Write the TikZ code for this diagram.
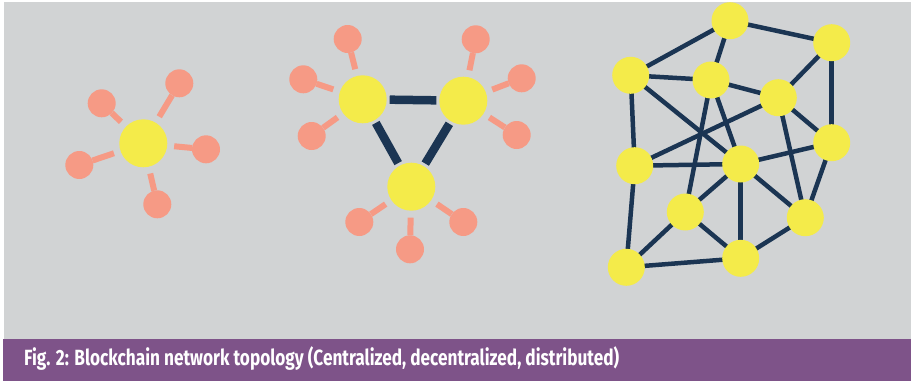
\documentclass[tikz,border=0pt]{standalone}
\usepackage{fontspec}
\setmainfont{Fira Sans}
\usepackage{graphicx}
\definecolor{bggray}{HTML}{D1D3D4}
\definecolor{hubyellow}{HTML}{F4EB4A}
\definecolor{salmon}{HTML}{F69A85}
\definecolor{navy}{HTML}{1B3553}
\definecolor{capurple}{HTML}{7E5389}
\tikzset{
  hub/.style={circle,fill=hubyellow,inner sep=0pt,outer sep=0pt,minimum size=48pt},
  sat/.style={circle,fill=salmon,inner sep=0pt,outer sep=0pt,minimum size=28pt},
  mnode/.style={circle,fill=hubyellow,inner sep=0pt,outer sep=0pt,minimum size=37pt},
  spoke/.style={draw=salmon,line width=6pt,shorten <=7pt},
  link/.style={draw=navy,line width=8.5pt,shorten <=3pt,shorten >=3pt},
  mesh/.style={draw=navy,line width=4.5pt},
}
\begin{document}
\begin{tikzpicture}[x=1pt,y=-1pt]
\useasboundingbox (0,0) rectangle (913,383);
\fill[white] (0,0) rectangle (913,383);
\fill[bggray] (4,2) rectangle (911,339);
\fill[capurple] (3,339) rectangle (911,381);
% centralized
\node[sat] (s1) at (179.3,83.3) {};
\node[sat] (s2) at (101.7,103.3) {};
\node[sat] (s3) at (206,149.3) {};
\node[sat] (s4) at (79.3,165) {};
\node[sat] (s5) at (157.3,204.3) {};
\node[hub] (c0) at (143.3,143.3) {};
\foreach \s in {s1,s2,s3,s4,s5} \path[spoke] (c0) -- (\s);
% decentralized
\node[hub] (A) at (362.7,99.3) {};
\node[hub] (B) at (463.3,100.7) {};
\node[hub] (C) at (411.3,186.7) {};
\node[sat] (a1) at (347.7,39) {};
\node[sat] (a2) at (303.3,79.3) {};
\node[sat] (a3) at (311.7,136) {};
\node[sat] (b1) at (475.7,39.3) {};
\node[sat] (b2) at (521.7,78.3) {};
\node[sat] (b3) at (516.7,135) {};
\node[sat] (c1) at (359.3,222) {};
\node[sat] (c2) at (410,249.3) {};
\node[sat] (c3) at (463.3,222) {};
\foreach \s in {a1,a2,a3} \path[spoke] (A) -- (\s);
\foreach \s in {b1,b2,b3} \path[spoke] (B) -- (\s);
\foreach \s in {c1,c2,c3} \path[spoke] (C) -- (\s);
\path[link] (A) -- (B);
\path[link] (A) -- (C);
\path[link] (B) -- (C);
% distributed
\coordinate (p1) at (730,20.7);
\coordinate (p2) at (831.7,42.7);
\coordinate (p3) at (630.7,75.3);
\coordinate (p4) at (711,80);
\coordinate (p5) at (778.3,97.7);
\coordinate (p6) at (831.7,142.7);
\coordinate (p7) at (634.7,165.7);
\coordinate (p8) at (740.7,164);
\coordinate (p9) at (685.3,212);
\coordinate (p10) at (805.3,217.7);
\coordinate (p11) at (626.3,267.3);
\coordinate (p12) at (740.7,258.3);
\foreach \a/\b in {p1/p2,p1/p3,p1/p4,p2/p5,p2/p6,p3/p4,p3/p7,p3/p8,p4/p5,p4/p9,p4/p8,p5/p7,p5/p6,p5/p10,p6/p8,p6/p10,p7/p8,p7/p11,p8/p9,p8/p10,p8/p12,p9/p11,p9/p12,p10/p12,p11/p12}
  \path[mesh] (\a) -- (\b);
\foreach \i in {1,...,12} \node[mnode] (m\i) at (p\i) {};
% caption
\node[anchor=base west,inner sep=0pt,text=white,font=\fontsize{22pt}{24pt}\selectfont\bfseries] (cap) at (24,365)
  {\resizebox{595pt}{\height}{Fig. 2: Blockchain network topology (Centralized, decentralized, distributed)}};
\end{tikzpicture}
\end{document}
